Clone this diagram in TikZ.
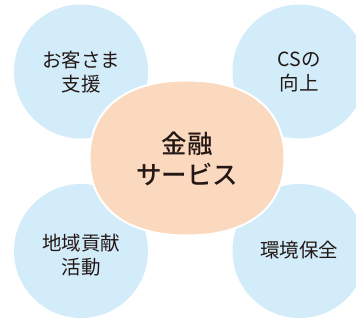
\documentclass[tikz,border=0pt]{standalone}
\usepackage{fontspec}
\setmainfont{Noto Sans CJK JP}
\newfontfamily\medcjk{Noto Sans CJK JP Medium}
\definecolor{bluefill}{HTML}{D3ECFA}
\definecolor{peachfill}{HTML}{FBD9BE}
\definecolor{inktext}{HTML}{231815}
\tikzset{
  topic/.style={circle,fill=bluefill,draw=none,minimum size=134pt,inner sep=0pt},
  lbl/.style={text=inktext,align=center,inner sep=0pt,font=\fontsize{19.5}{24}\selectfont},
  mainlbl/.style={text=inktext,align=center,inner sep=0pt,font=\fontsize{25.5}{31}\selectfont\medcjk},
}
\begin{document}
\begin{tikzpicture}[x=1pt,y=-1pt]
\useasboundingbox (0,0) rectangle (356,320);
\clip (0,0) rectangle (356,320);
\fill[white] (0,0) rectangle (356,320);
\node[topic] (c1) at (81,71.5) {};
\node[topic] (c2) at (299.5,71.5) {};
\node[topic] (c3) at (81,251) {};
\node[topic] (c4) at (299.5,251) {};
\draw[fill=peachfill,draw=white,line width=2pt]
  (284.5,158) .. controls (284.5,207) and (249,235.5) .. (187,235.5)
  .. controls (125,235.5) and (89.5,207) .. (89.5,158)
  .. controls (89.5,109) and (125,80.5) .. (187,80.5)
  .. controls (249,80.5) and (284.5,109) .. (284.5,158) -- cycle;
\node[lbl] (t1) at (81,72) {お客さま\\支援};
\node[lbl] (t2) at (299,72) {CSの\\向上};
\node[lbl] (t3) at (81,255) {地域貢献\\活動};
\node[lbl] (t4) at (299,250) {環境保全};
\node[mainlbl] (m) at (187,159) {金融\\サービス};
\end{tikzpicture}
\end{document}
